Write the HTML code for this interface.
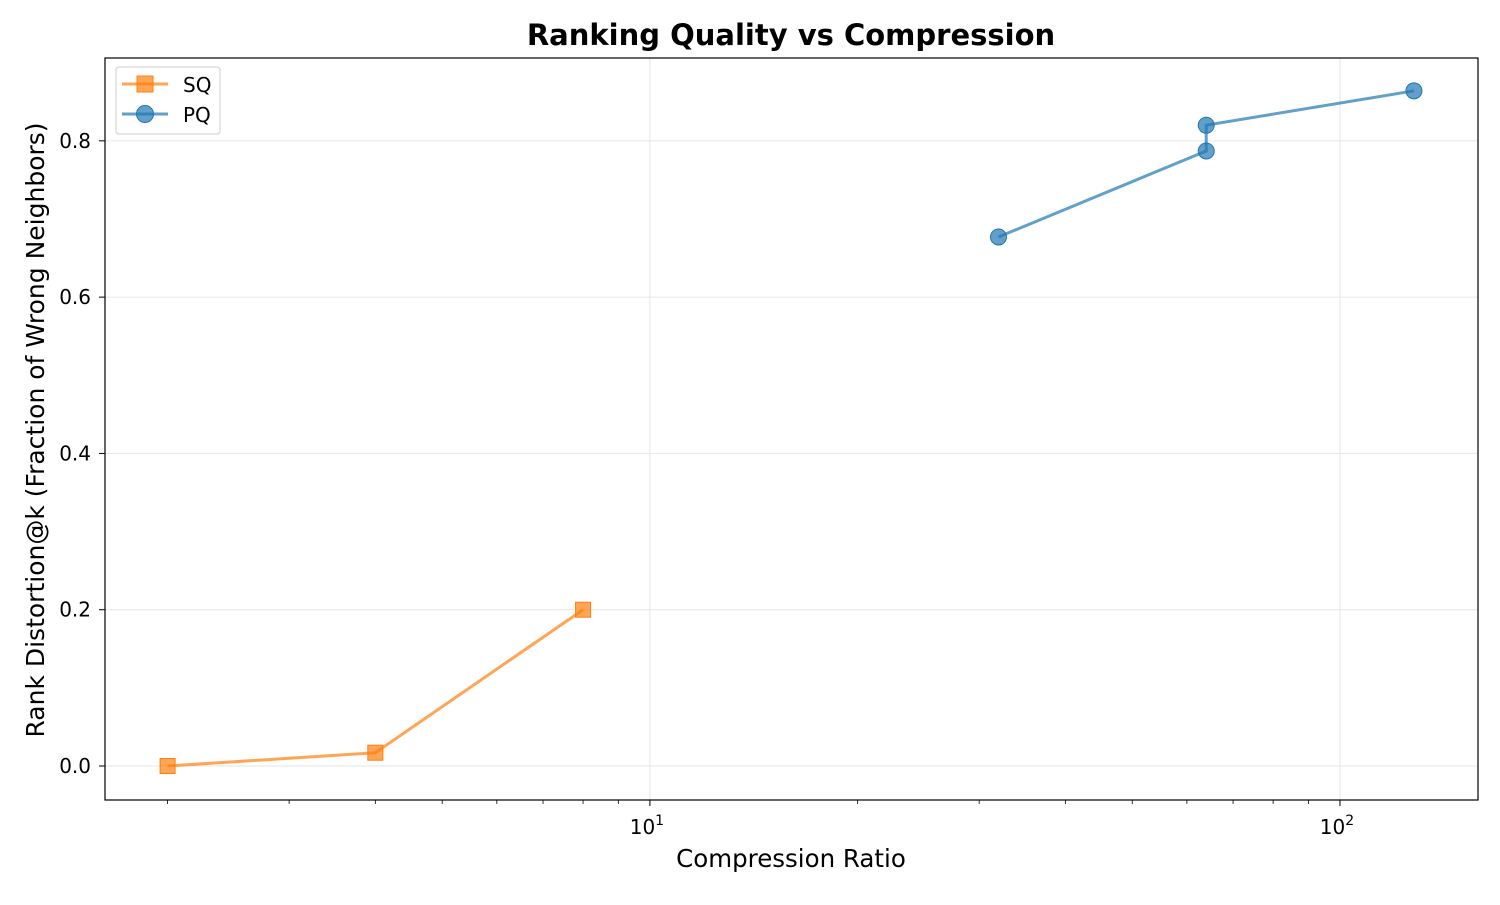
<!DOCTYPE html>
<html><head><meta charset="utf-8"><style>
body{margin:0;background:#fff;font-family:"Liberation Sans","DejaVu Sans",sans-serif}
svg text{font-family:"DejaVu Sans","Liberation Sans",sans-serif}
</style></head><body>
<svg id="chart" width="1500" height="900" xmlns="http://www.w3.org/2000/svg">
<rect width="1500" height="900" fill="#fff"/>
<text x="791" y="45" text-anchor="middle" font-size="29" font-weight="bold">Ranking Quality vs Compression</text>
<text x="791" y="867" text-anchor="middle" font-size="24.5">Compression Ratio</text>
<text transform="translate(44,430) rotate(-90)" text-anchor="middle" font-size="25">Rank Distortion@k (Fraction of Wrong Neighbors)</text>
<g id="grid"></g><g id="axes"></g><g id="series"></g>
<rect x="105" y="58" width="1373" height="742" fill="none" stroke="#000" stroke-width="1.2"/>
<g>
<rect x="116" y="67" width="104" height="67" rx="3" fill="#fff" stroke="#ccc"/>
<line x1="122" y1="84" x2="168" y2="84" stroke="#ff7f0e" stroke-opacity="0.7" stroke-width="3"/>
<rect x="137" y="76" width="16" height="16" fill="#ff7f0e" fill-opacity="0.7" stroke="#ff7f0e"/>
<text x="183" y="92" font-size="20">SQ</text>
<line x1="122" y1="114" x2="168" y2="114" stroke="#1f77b4" stroke-opacity="0.7" stroke-width="3"/>
<circle cx="145" cy="114" r="8.5" fill="#1f77b4" fill-opacity="0.7" stroke="#1f77b4"/>
<text x="183" y="122" font-size="20">PQ</text>
</g>
</svg>
<script>
const sqX=[2,4,8];
const sqY=[0.0,0.017,0.200];
const pqX=[32,64,64,128];
const pqY=[0.677,0.787,0.820,0.864];
const yTicks=[0.0,0.2,0.4,0.6,0.8];
const yTickLabels=["0.0","0.2","0.4","0.6","0.8"];
const xMajor=[10,100];
const L=105,R=1478,T=58,B=800;
const xmin=Math.log10(1.623),xmax=Math.log10(158.5),ymin=-0.0435,ymax=0.906;
const sx=v=>L+(Math.log10(v)-xmin)/(xmax-xmin)*(R-L);
const sy=v=>B-(v-ymin)/(ymax-ymin)*(B-T);
const NS="http://www.w3.org/2000/svg";
function mk(p,t,a){const e=document.createElementNS(NS,t);for(const k in a)e.setAttribute(k,a[k]);p.appendChild(e);return e;}
const grid=document.getElementById('grid'),axes=document.getElementById('axes'),ser=document.getElementById('series');
yTicks.forEach((v,i)=>{const y=sy(v);
const g=mk(grid,'line',{x1:L,x2:R,y1:y,y2:y,stroke:'#e6e6e6','stroke-width':1});

mk(axes,'line',{x1:L-6,x2:L,y1:y,y2:y,stroke:'#000'});
const t=mk(axes,'text',{x:L-14,y:y+7,'text-anchor':'end','font-size':20});t.textContent=yTickLabels[i];
});
xMajor.forEach(v=>{const x=sx(v);
const g=mk(grid,'line',{x1:x,x2:x,y1:T,y2:B,stroke:'#e6e6e6','stroke-width':1});

mk(axes,'line',{x1:x,x2:x,y1:B,y2:B+6,stroke:'#000'});
const t=mk(axes,'text',{x:x-3,y:B+34,'text-anchor':'middle','font-size':20});
t.innerHTML='10<tspan dy="-9" font-size="14">'+Math.log10(v)+'</tspan>';
});
for(let d=1;d<=100;d*=10)for(let m=2;m<=9;m++){const v=d*m;const x=sx(v);if(x<L||x>R)continue;
mk(axes,'line',{x1:x,x2:x,y1:B,y2:B+4,stroke:'#000','stroke-width':0.8});}
function draw(xs,ys,color,name,square){
const pts=xs.map((v,i)=>sx(v)+','+sy(ys[i])).join(' ');
const pl=mk(ser,'polyline',{points:pts,fill:'none',stroke:color,'stroke-opacity':0.7,'stroke-width':3});

xs.forEach((v,i)=>{const x=sx(v),y=sy(ys[i]);let e;
if(square)e=mk(ser,'rect',{x:x-7.5,y:y-7.5,width:15,height:15,fill:color,'fill-opacity':0.7,stroke:color});
else e=mk(ser,'circle',{cx:x,cy:y,r:8,fill:color,'fill-opacity':0.7,stroke:color});
});}
draw(sqX,sqY,'#ff7f0e','sq',true);
draw(pqX,pqY,'#1f77b4','pq',false);
</script>
</body></html>
